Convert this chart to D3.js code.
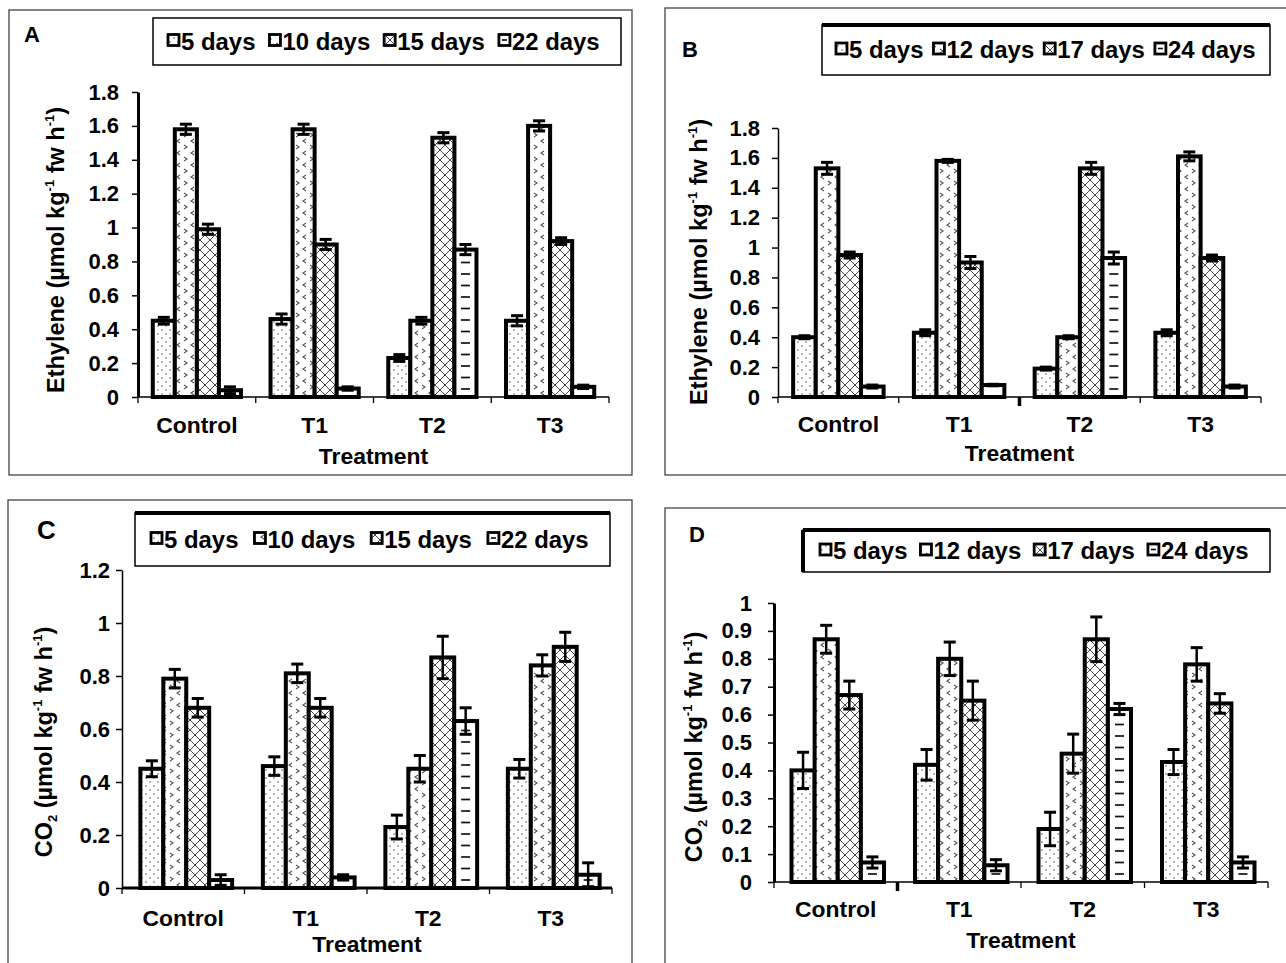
<!DOCTYPE html>
<html>
<head>
<meta charset="utf-8">
<script src="https://cdn.jsdelivr.net/npm/d3@7"></script>
<style>
  body { margin: 0; background: #fff; }
  text { font-family: "Liberation Sans", Arial, sans-serif; font-weight: bold; fill: #000; }
</style>
</head>
<body>
<svg id="fig" width="1286" height="963"></svg>
<script>
(function(d3){
	'use strict';

	// categories and legend entries
	var categories = ['Control', 'T1', 'T2', 'T3'];
	var daysAC = ['5 days', '10 days', '15 days', '22 days'];
	var daysBD = ['5 days', '12 days', '17 days', '24 days'];

	// tick labels
	var ticksEthylene = ['0', '0.2', '0.4', '0.6', '0.8', '1', '1.2', '1.4', '1.6', '1.8'];
	var ticksCO2C = ['0', '0.2', '0.4', '0.6', '0.8', '1', '1.2'];
	var ticksCO2D = ['0', '0.1', '0.2', '0.3', '0.4', '0.5', '0.6', '0.7', '0.8', '0.9', '1'];

	// values: one row per series (days), one column per treatment
	var ethyleneA = [
		[0.45, 0.46, 0.23, 0.45],
		[1.58, 1.58, 0.45, 1.60],
		[0.99, 0.90, 1.53, 0.92],
		[0.04, 0.05, 0.87, 0.06]
	];
	var ethyleneAErr = [
		[0.02, 0.03, 0.02, 0.03],
		[0.03, 0.03, 0.02, 0.03],
		[0.03, 0.03, 0.03, 0.02],
		[0.02, 0.01, 0.03, 0.01]
	];
	var ethyleneB = [
		[0.40, 0.43, 0.19, 0.43],
		[1.53, 1.58, 0.40, 1.61],
		[0.95, 0.90, 1.53, 0.93],
		[0.07, 0.08, 0.93, 0.07]
	];
	var ethyleneBErr = [
		[0.01, 0.02, 0.01, 0.02],
		[0.04, 0.01, 0.01, 0.03],
		[0.02, 0.04, 0.04, 0.02],
		[0.01, 0.005, 0.04, 0.01]
	];
	var co2C = [
		[0.45, 0.46, 0.23, 0.45],
		[0.79, 0.81, 0.45, 0.84],
		[0.68, 0.68, 0.87, 0.91],
		[0.03, 0.04, 0.63, 0.05]
	];
	var co2CErr = [
		[0.03, 0.035, 0.045, 0.035],
		[0.035, 0.035, 0.05, 0.04],
		[0.035, 0.035, 0.08, 0.055],
		[0.02, 0.01, 0.05, 0.045]
	];
	var co2D = [
		[0.40, 0.42, 0.19, 0.43],
		[0.87, 0.80, 0.46, 0.78],
		[0.67, 0.65, 0.87, 0.64],
		[0.07, 0.06, 0.62, 0.07]
	];
	var co2DErr = [
		[0.065, 0.055, 0.06, 0.045],
		[0.05, 0.06, 0.07, 0.06],
		[0.05, 0.07, 0.08, 0.035],
		[0.02, 0.02, 0.02, 0.02]
	];

	var svg = d3.select('#fig');
	var defs = svg.append('defs');

	// fill patterns
	var dots = defs.append('pattern').attr('id', 'pat0')
		.attr('patternUnits', 'userSpaceOnUse').attr('width', 8).attr('height', 8);
	dots.append('rect').attr('width', 8).attr('height', 8).attr('fill', '#fff');
	dots.append('circle').attr('cx', 2).attr('cy', 2).attr('r', 0.8).attr('fill', '#555');
	dots.append('circle').attr('cx', 6).attr('cy', 6).attr('r', 0.8).attr('fill', '#555');

	var chev = defs.append('pattern').attr('id', 'pat1')
		.attr('patternUnits', 'userSpaceOnUse').attr('width', 14).attr('height', 12);
	chev.append('rect').attr('width', 14).attr('height', 12).attr('fill', '#fff');
	chev.append('path').attr('d', 'M2,1 L5,3 L2,5 M12,7 L9,9 L12,11')
		.attr('fill', 'none').attr('stroke', '#555').attr('stroke-width', 1.1);

	var cross = defs.append('pattern').attr('id', 'pat2')
		.attr('patternUnits', 'userSpaceOnUse').attr('width', 10).attr('height', 10);
	cross.append('rect').attr('width', 10).attr('height', 10).attr('fill', '#fff');
	cross.append('path').attr('d', 'M0,0 L10,10 M10,0 L0,10')
		.attr('fill', 'none').attr('stroke', '#333').attr('stroke-width', 0.9);

	function txt(g, x, y, str, size, anchor, sx) {
		return g.append('text')
			.attr('transform', 'translate(' + x + ',' + y + ') scale(' + (sx || 1) + ',1)')
			.attr('font-size', size)
			.attr('text-anchor', anchor || 'start')
			.text(str);
	}

	function yTitle(g, x, y, co2) {
		var t = g.append('text')
			.attr('transform', 'translate(' + x + ',' + y + ') rotate(-90)')
			.attr('font-size', 23.5)
			.attr('text-anchor', 'middle');
		if (co2) {
			t.append('tspan').text('CO');
			t.append('tspan').attr('font-size', 13).attr('dy', 5).text('2');
			t.append('tspan').attr('dy', -5).text(' (µmol kg');
		} else {
			t.append('tspan').text('Ethylene (µmol kg');
		}
		t.append('tspan').attr('font-size', 13).attr('dy', -10).text('-1');
		t.append('tspan').attr('dy', 10).text(' fw h');
		t.append('tspan').attr('font-size', 13).attr('dy', -10).text('-1');
		t.append('tspan').attr('dy', 10).text(')');
	}

	function drawPanel(p) {
		var g = svg.append('g');

		// panel frame
		g.append('rect')
			.attr('x', p.frame[0]).attr('y', p.frame[1])
			.attr('width', p.frame[2] - p.frame[0]).attr('height', p.frame[3] - p.frame[1])
			.attr('fill', 'none').attr('stroke', '#444').attr('stroke-width', 1.3);

		txt(g, p.label[0], p.label[1], p.name, p.label[2]);

		// legend
		var lb = p.legend;
		g.append('rect')
			.attr('x', lb[0]).attr('y', lb[1]).attr('width', lb[2] - lb[0]).attr('height', lb[3] - lb[1])
			.attr('fill', '#fff').attr('stroke', '#000').attr('stroke-width', 1.5);
		if (p.thickTop) {
			g.append('line').attr('x1', lb[0]).attr('x2', lb[2]).attr('y1', lb[1]).attr('y2', lb[1])
				.attr('stroke', '#000').attr('stroke-width', 4);
		}
		if (p.thickLeft) {
			g.append('line').attr('x1', lb[0]).attr('x2', lb[0]).attr('y1', lb[1]).attr('y2', lb[3])
				.attr('stroke', '#000').attr('stroke-width', 4);
		}
		var lx = p.legendStart, ly = (lb[1] + lb[3]) / 2;
		p.series.forEach(function (s, i) {
			g.append('rect').attr('x', lx).attr('y', ly - 7).attr('width', 11).attr('height', 11)
				.attr('fill', i < 3 ? 'url(#pat' + i + ')' : '#fff')
				.attr('stroke', '#000').attr('stroke-width', 2.8);
			if (i === 3) {
				g.append('line').attr('x1', lx + 3).attr('x2', lx + 8).attr('y1', ly - 1.5).attr('y2', ly - 1.5)
					.attr('stroke', '#000').attr('stroke-width', 1.6);
			}
			var t = txt(g, lx + 13, ly + 8, s, 23, 'start', 1.04);
			lx += 13 + t.node().getComputedTextLength() * 1.04 + p.legendGap;
		});

		// scales
		var x = d3.scaleBand().domain(categories).range([p.x0, p.x1]);
		var xs = d3.scaleBand().domain(d3.range(4)).range([0, x.bandwidth()]).paddingOuter(0.67);
		var y = d3.scaleLinear().domain([0, +p.ticks[p.ticks.length - 1]]).range([p.y0, p.yTop]);

		// y axis
		var ya = g.append('g').attr('transform', 'translate(' + p.x0 + ',0)')
			.call(d3.axisLeft(y).tickValues(p.ticks.map(Number))
				.tickFormat(function (d, i) { return p.ticks[i]; })
				.tickSize(6).tickSizeOuter(0).tickPadding(p.tickPad));
		ya.select('.domain').attr('stroke-width', p.yAxisW);
		ya.selectAll('.tick line').attr('stroke-width', 1.5);
		ya.selectAll('.tick text').attr('font-size', 22).attr('font-family', null);
		ya.attr('font-family', null).attr('font-size', null);

		// bars
		p.values.forEach(function (row, s) {
			row.forEach(function (v, i) {
				var bx = x(categories[i]) + xs(s) + (p.shift || 0), bw = xs.bandwidth();
				g.append('rect')
					.attr('x', bx).attr('y', y(v)).attr('width', bw).attr('height', p.y0 - y(v))
					.attr('fill', s < 3 ? 'url(#pat' + s + ')' : '#fff')
					.attr('stroke', '#000').attr('stroke-width', 4);
				if (s === 3) {
					for (var yy = p.y0 - 8; yy > y(v) + 5; yy -= 11.5) {
						g.append('line').attr('x1', bx + bw / 2 - 4.5).attr('x2', bx + bw / 2 + 4.5)
							.attr('y1', yy).attr('y2', yy)
							.attr('stroke', '#111').attr('stroke-width', 1.7);
					}
				}
			});
		});

		// error bars
		p.values.forEach(function (row, s) {
			row.forEach(function (v, i) {
				var e = p.errors[s][i];
				var cx = x(categories[i]) + xs(s) + (p.shift || 0) + xs.bandwidth() / 2;
				g.append('line').attr('x1', cx).attr('x2', cx).attr('y1', y(v - e)).attr('y2', y(v + e))
					.attr('stroke', '#000').attr('stroke-width', 2.5);
				[v - e, v + e].forEach(function (ev) {
					g.append('line').attr('x1', cx - 6).attr('x2', cx + 6).attr('y1', y(ev)).attr('y2', y(ev))
						.attr('stroke', '#000').attr('stroke-width', 3);
				});
			});
		});

		// x axis
		g.append('line').attr('x1', p.x0).attr('x2', p.x1).attr('y1', p.y0).attr('y2', p.y0)
			.attr('stroke', '#000').attr('stroke-width', p.xAxisW);
		var bounds = categories.map(function (c) { return x(c); }).concat([p.x1]);
		bounds.forEach(function (b, i) {
			g.append('line').attr('x1', b).attr('x2', b).attr('y1', p.y0).attr('y2', p.y0 + (i === p.bigTick ? 9 : 6))
				.attr('stroke', '#000').attr('stroke-width', i === p.bigTick ? 3.5 : 1.3);
		});
		categories.forEach(function (c) {
			txt(g, x(c) + x.bandwidth() / 2, p.catY, c, 22, 'middle', 1.04);
		});
		txt(g, (p.x0 + p.x1) / 2, p.titleY, 'Treatment', 22, 'middle', 1.04);

		yTitle(g, p.yTitle[0], p.yTitle[1], p.co2);
	}

	drawPanel({
		name: 'A', label: [24, 42, 22], frame: [9, 10, 632, 475],
		legend: [153, 18, 621, 65], legendStart: 168, legendGap: 14,
		series: daysAC, values: ethyleneA, errors: ethyleneAErr, ticks: ticksEthylene,
		x0: 138, x1: 609, y0: 397, yTop: 92, tickPad: 13, yAxisW: 3, xAxisW: 1.5,
		catY: 433, titleY: 464, yTitle: [64, 250], co2: false
	});
	drawPanel({
		name: 'B', label: [682, 57, 22], frame: [665, 8, 1292, 475],
		legend: [822, 25, 1270, 75], legendStart: 836, legendGap: 10, thickTop: true,
		series: daysBD, values: ethyleneB, errors: ethyleneBErr, ticks: ticksEthylene,
		x0: 778, x1: 1261, y0: 397, yTop: 128, tickPad: 12, yAxisW: 1.5, xAxisW: 1.5, bigTick: 2,
		catY: 432, titleY: 461, yTitle: [707, 262], co2: false
	});
	drawPanel({
		name: 'C', label: [37, 539, 26], frame: [8, 500, 632, 975],
		legend: [135, 513, 610, 566], legendStart: 151, legendGap: 16, thickTop: true,
		series: daysAC, values: co2C, errors: co2CErr, ticks: ticksCO2C,
		x0: 122, x1: 612, y0: 888, yTop: 570, tickPad: 6, yAxisW: 1.5, xAxisW: 3, shift: 3,
		catY: 926, titleY: 952, yTitle: [52, 742], co2: true
	});
	drawPanel({
		name: 'D', label: [689, 542, 22], frame: [665, 508, 1292, 975],
		legend: [803, 530, 1270, 572], legendStart: 820, legendGap: 13, thickTop: true, thickLeft: true,
		series: daysBD, values: co2D, errors: co2DErr, ticks: ticksCO2D,
		x0: 774, x1: 1268, y0: 882, yTop: 603, tickPad: 16, yAxisW: 3, xAxisW: 1.5, bigTick: 1, shift: 2,
		catY: 917, titleY: 948, yTitle: [702, 747], co2: true
	});
})(d3);
</script>
</body>
</html>
